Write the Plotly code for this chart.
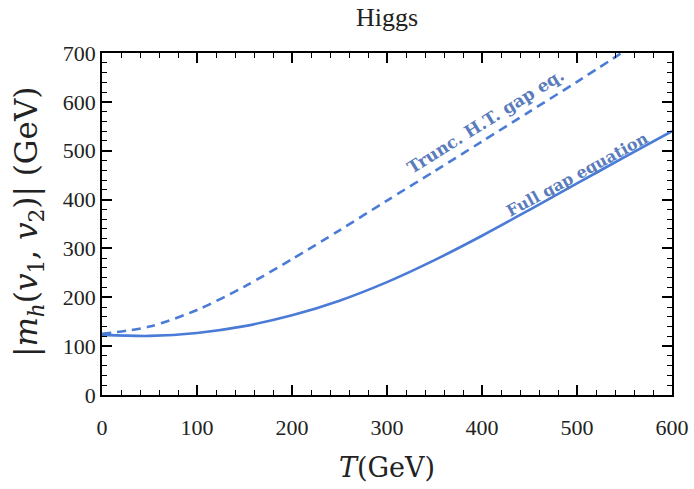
import plotly.graph_objects as go

# Full gap equation (solid)
T_full = [0, 50, 100, 150, 200, 250, 300, 350, 400, 450, 500, 550, 600]
m_full = [123, 121, 127, 141, 163, 193, 231, 276, 326, 379, 433, 487, 540]

# Truncated high-T gap equation (dashed)
T_trunc = [0, 50, 100, 150, 200, 250, 300, 350, 400, 450, 500, 550]
m_trunc = [125, 140, 174, 222, 278, 337, 398, 458, 519, 580, 641, 704]

x_range = [0, 600]
y_range = [0, 700]

col = "#4a7bd6"
lab_col = "#5a7bbc"
serif = "Liberation Serif"
label_font = "DejaVu Serif"
txt = "#222222"

L, R, T, B = 102, 22, 53, 94
W, H = 694, 489

fig = go.Figure()
fig.add_trace(go.Scatter(x=T_trunc, y=m_trunc, mode="lines",
                         line=dict(color=col, width=2.6, dash="9px,6px", shape="spline", smoothing=0.8),
                         showlegend=False, hoverinfo="skip"))
fig.add_trace(go.Scatter(x=T_full, y=m_full, mode="lines",
                         line=dict(color=col, width=2.6, shape="spline", smoothing=0.8),
                         showlegend=False, hoverinfo="skip"))

fig.add_annotation(x=404, y=561, text="<b>Trunc. H.T. gap eq.</b>", showarrow=False,
                   textangle=-32, font=dict(family="DejaVu Serif", size=17, color=lab_col))
fig.add_annotation(x=500, y=452, text="<b>Full gap equation</b>", showarrow=False,
                   textangle=-28.5, font=dict(family="DejaVu Serif", size=16, color=lab_col))

pw = W - L - R
ph = H - T - B
fig.add_annotation(xref="paper", yref="paper", x=0.5, y=(H - 467 - B) / ph,
                   text="<i>T</i>(GeV)", showarrow=False, xanchor="center", yanchor="middle",
                   font=dict(family=label_font, size=27, color=txt))
fig.add_annotation(xref="paper", yref="paper", x=(29 - L) / pw, y=(H - B - 222) / ph,
                   text="|<i>m</i><sub><i>h</i></sub>(<i>v</i><sub>1</sub>, <i>v</i><sub>2</sub>)| (GeV)",
                   showarrow=False, textangle=-90, xanchor="center", yanchor="middle",
                   font=dict(family=label_font, size=31, color=txt))

minor = dict(ticks="inside", ticklen=5, tickwidth=1.3, tickcolor="black", dtick=20, tick0=0)

fig.update_xaxes(range=x_range, showgrid=False, zeroline=False, showline=True, linecolor="black",
                 linewidth=1.5, mirror="allticks", ticks="inside", ticklen=10, tickwidth=1.8,
                 tickcolor="black", tick0=0, dtick=100, minor=minor,
                 tickfont=dict(family=serif, size=22, color=txt), ticklabelstandoff=12)
fig.update_yaxes(range=y_range, showgrid=False, zeroline=False, showline=True, linecolor="black",
                 linewidth=1.5, mirror="allticks", ticks="inside", ticklen=10, tickwidth=1.8,
                 tickcolor="black", tick0=0, dtick=100, minor=minor,
                 tickfont=dict(family=serif, size=22, color=txt))

fig.update_layout(width=W, height=H, plot_bgcolor="white", paper_bgcolor="white",
                  margin=dict(l=L, r=R, t=T, b=B, autoexpand=False),
                  title=dict(text="Higgs", x=(L + (W - R)) / 2 / W, xanchor="center",
                             y=1 - 17 / H, yanchor="middle",
                             font=dict(family=serif, size=26, color=txt)))

fig.write_html("out.html")
